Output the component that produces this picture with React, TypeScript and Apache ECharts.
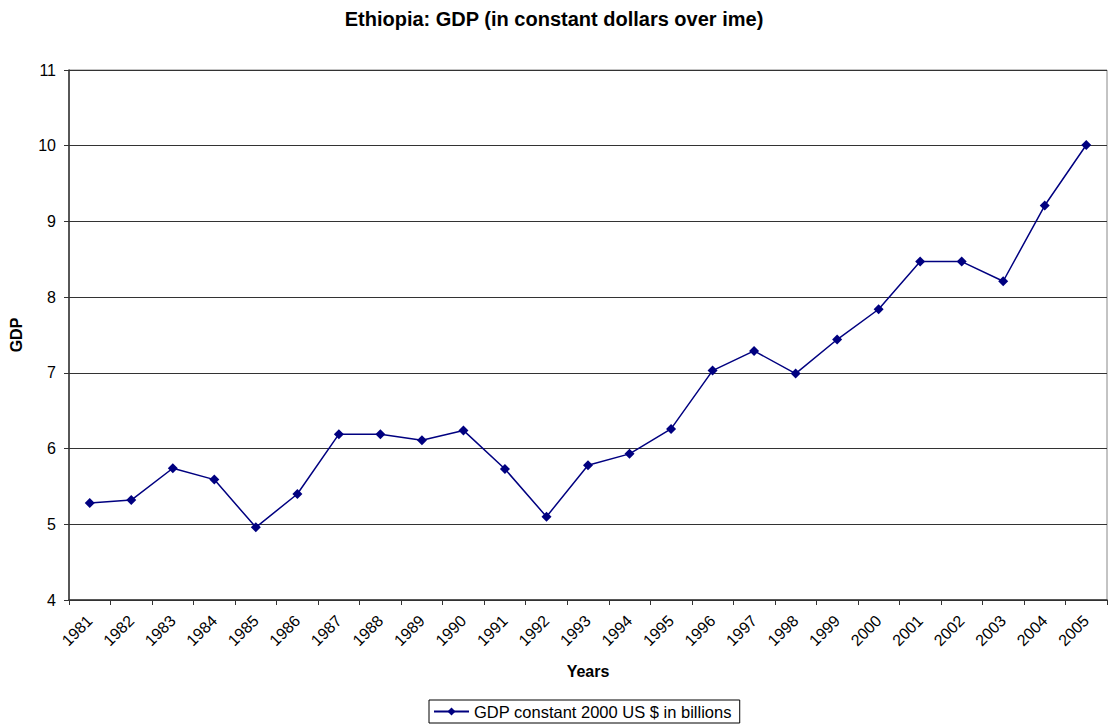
import React, { useEffect, useRef } from "react";
import * as echarts from "echarts";

const years = ["1981","1982","1983","1984","1985","1986","1987","1988","1989","1990","1991","1992","1993","1994","1995","1996","1997","1998","1999","2000","2001","2002","2003","2004","2005"];
const gdp = [5.28, 5.32, 5.74, 5.59, 4.96, 5.4, 6.19, 6.19, 6.11, 6.24, 5.73, 5.1, 5.78, 5.93, 6.26, 7.03, 7.29, 6.99, 7.44, 7.84, 8.47, 8.47, 8.21, 9.21, 10.01];
const seriesName = "GDP constant 2000 US $ in billions";
const titleText = "Ethiopia: GDP (in constant dollars over ime)";

export default function App() {
  const ref = useRef<HTMLDivElement>(null);
  useEffect(() => {
    const chart = echarts.init(ref.current!, null, { renderer: "svg" });
    const font = "'Liberation Sans', Arial, sans-serif";
    chart.setOption({
      animation: false,
      textStyle: { fontFamily: font },
      title: {
        text: titleText,
        left: "center",
        top: 4,
        textStyle: { fontSize: 20, fontWeight: "bold", color: "#000", fontFamily: font },
      },
      grid: { left: 62, right: 1, top: 70, bottom: 124, show: true, borderColor: "#888", borderWidth: 1 },
      legend: {
        bottom: 1,
        left: 429,
        data: [seriesName],
        borderColor: "#000",
        borderWidth: 1,
        borderRadius: 0,
        padding: [3, 8, 3, 4],
        itemWidth: 35,
        itemHeight: 10,
        itemGap: 6,
        textStyle: { fontSize: 16.5, color: "#000", fontFamily: font },
      },
      xAxis: {
        type: "category",
        data: years,
        boundaryGap: true,
        name: "Years",
        nameLocation: "middle",
        nameGap: 63,
        nameTextStyle: { fontSize: 16, fontWeight: "bold", color: "#000", fontFamily: font },
        axisLine: { lineStyle: { color: "#333", width: 1.5 } },
        axisTick: { show: true, length: 5, lineStyle: { color: "#333" } },
        axisLabel: { rotate: 45, fontSize: 16, color: "#000", interval: 0, margin: 18, fontFamily: font },
        splitLine: { show: false },
      },
      yAxis: {
        type: "value",
        min: 4,
        max: 11,
        interval: 1,
        name: "GDP",
        nameLocation: "middle",
        nameGap: 45,
        nameTextStyle: { fontSize: 16, fontWeight: "bold", color: "#000", fontFamily: font },
        axisLine: { show: true, lineStyle: { color: "#333", width: 1.5 } },
        axisTick: { show: true, length: 5, lineStyle: { color: "#333" } },
        axisLabel: { fontSize: 16, color: "#000", margin: 13, fontFamily: font },
        splitLine: { show: true, lineStyle: { color: "#333", width: 1 } },
      },
      series: [
        {
          name: seriesName,
          type: "line",
          data: gdp,
          symbol: "diamond",
          symbolSize: 10,
          showAllSymbol: true,
          lineStyle: { color: "#000080", width: 1.5 },
          itemStyle: { color: "#000080" },
        },
      ],
    });
    return () => chart.dispose();
  }, []);
  return <div ref={ref} style={{ width: 1108, height: 724, position: "absolute", left: 0, top: 0 }} />;
}
